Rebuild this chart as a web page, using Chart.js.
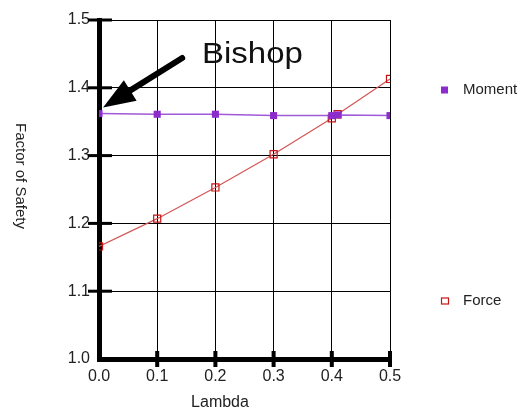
<!DOCTYPE html>
<html><head><meta charset="utf-8">
<script src="https://cdn.jsdelivr.net/npm/chart.js@4/dist/chart.umd.min.js"></script>
<style>html,body{margin:0;padding:0;background:#fff}</style>
</head><body>
<canvas id="c" width="528" height="412"></canvas>
<script>
// ---- data ----
const lambdaValues = [0.0, 0.1, 0.2, 0.3, 0.4, 0.41, 0.5];
const momentValues = [1.362, 1.361, 1.361, 1.359, 1.359, 1.360, 1.359];
const forceValues  = [1.166, 1.207, 1.253, 1.302, 1.355, 1.361, 1.413];
const xTickValues = [0.0, 0.1, 0.2, 0.3, 0.4, 0.5];
const yTickValues = [1.0, 1.1, 1.2, 1.3, 1.4, 1.5];
const seriesNames = ['Moment', 'Force'];
const xTitle = 'Lambda';
const yTitle = 'Factor of Safety';
const noteText = 'Bishop';

const FONT = '"Liberation Sans", Arial, Helvetica, sans-serif';
const purple = 'rgb(140,44,204)';
const purpleLine = 'rgb(160,90,215)';
const red = 'rgb(200,20,20)';
const redLine = 'rgb(212,85,85)';

const pts = (ys) => lambdaValues.map((x, i) => ({x, y: ys[i]}));

const decorPlugin = {
  id: 'decor',
  beforeDatasetsDraw(chart) {
    const {ctx, scales: {x, y}} = chart;
    ctx.save();
    ctx.fillStyle = '#000';
    // y tick marks (crossing the axis)
    const yAxisX = x.getPixelForValue(0);
    yTickValues.forEach(v => {
      if (v === yTickValues[0]) return;
      const py = y.getPixelForValue(v);
      ctx.fillRect(yAxisX - 11, py - 1.5, 24, 3);
    });
    // x tick marks
    const xAxisY = y.getPixelForValue(1.0);
    xTickValues.forEach(v => {
      if (v === xTickValues[0]) return;
      const px = x.getPixelForValue(v);
      ctx.fillRect(px - 2, xAxisY - 8, 4, 16);
    });
    ctx.restore();
  },
  afterDraw(chart) {
    const {ctx, scales: {x, y}, chartArea} = chart;
    ctx.save();
    ctx.fillStyle = '#222';
    // y title (reads top to bottom)
    ctx.font = '15px ' + FONT;
    ctx.textAlign = 'center';
    ctx.textBaseline = 'middle';
    ctx.save();
    ctx.translate(20, 176);
    ctx.rotate(Math.PI / 2);
    ctx.fillText(yTitle, 0, 0);
    ctx.restore();
    // x title
    ctx.font = '16px ' + FONT;
    ctx.fillText(xTitle, 220, 403);

    // legend
    const ds = chart.data.datasets;
    const legendY = [90, 301];
    ds.forEach((d, i) => {
      const cy = legendY[i];
      if (i === 0) {
        ctx.fillStyle = purple;
        ctx.fillRect(441, cy - 3.5, 7, 7);
      } else {
        ctx.fillStyle = '#fff';
        ctx.fillRect(441, cy - 3.5, 7, 7);
        ctx.strokeStyle = red; ctx.lineWidth = 1.2;
        ctx.strokeRect(441.5, cy - 3, 7, 6);
      }
      ctx.fillStyle = '#222';
      ctx.font = '15px ' + FONT;
      ctx.textAlign = 'left';
      ctx.textBaseline = 'middle';
      ctx.fillText(d.label, 463, cy);
    });

    // Bishop annotation
    ctx.fillStyle = '#111';
    ctx.font = '30px ' + FONT;
    ctx.textAlign = 'left';
    ctx.textBaseline = 'alphabetic';
    ctx.save();
    ctx.translate(x.getPixelForValue(0.177), y.getPixelForValue(1.437));
    ctx.scale(1.1, 1);
    ctx.fillText(noteText, 0, 0);
    ctx.restore();

    const tx = x.getPixelForValue(0.007), ty = y.getPixelForValue(1.371);
    const sx = x.getPixelForValue(0.143), sy = y.getPixelForValue(1.444);
    const dx = tx - sx, dy = ty - sy, L = Math.hypot(dx, dy);
    const ux = dx / L, uy = dy / L;
    const headLen = 32, halfW = 12;
    const bx = tx - ux * headLen, by = ty - uy * headLen;
    ctx.strokeStyle = '#000';
    ctx.lineWidth = 6;
    ctx.lineCap = 'round';
    ctx.beginPath();
    ctx.moveTo(sx, sy);
    ctx.lineTo(bx + ux * 4, by + uy * 4);
    ctx.stroke();
    ctx.fillStyle = '#000';
    ctx.beginPath();
    ctx.moveTo(tx, ty);
    ctx.lineTo(bx - uy * halfW, by + ux * halfW);
    ctx.lineTo(bx + uy * halfW, by - ux * halfW);
    ctx.closePath();
    ctx.fill();
    ctx.restore();
  }
};

new Chart(document.getElementById('c'), {
  type: 'line',
  data: {
    datasets: [
      {
        label: seriesNames[0],
        data: pts(momentValues),
        borderColor: purpleLine,
        borderWidth: 1.5,
        backgroundColor: purple,
        pointStyle: 'rect',
        pointRadius: 5,
        pointBorderWidth: 0,
        pointBackgroundColor: purple,
        pointBorderColor: purple,
        tension: 0
      },
      {
        label: seriesNames[1],
        data: pts(forceValues),
        borderColor: redLine,
        borderWidth: 1.2,
        pointStyle: 'rect',
        pointRadius: 5,
        pointBorderWidth: 1.2,
        pointBackgroundColor: 'rgba(255,255,255,0)',
        pointBorderColor: red,
        tension: 0
      }
    ]
  },
  options: {
    responsive: false,
    animation: false,
    events: [],
    layout: { padding: { top: 20, right: 138, left: 0, bottom: 0 } },
    plugins: { legend: { display: false }, tooltip: { enabled: false } },
    scales: {
      x: {
        type: 'linear', min: 0, max: 0.5,
        afterBuildTicks: s => { s.ticks = xTickValues.map(v => ({value: v})); },
        afterFit: s => { s.height = 53; },
        ticks: { callback: v => Number(v).toFixed(1), font: { size: 16, family: FONT }, color: '#222', padding: 8, maxRotation: 0, autoSkip: false },
        grid: { color: '#000', lineWidth: 1, drawTicks: false },
        border: { color: '#000', width: 5 }
      },
      y: {
        min: 1.0, max: 1.5,
        afterBuildTicks: s => { s.ticks = yTickValues.map(v => ({value: v})); },
        afterFit: s => { s.width = 99; },
        ticks: { callback: v => Number(v).toFixed(1), font: { size: 16, family: FONT }, color: '#222', padding: 9, autoSkip: false },
        grid: { color: '#000', lineWidth: 1, drawTicks: false },
        border: { color: '#000', width: 5 }
      }
    }
  },
  plugins: [decorPlugin]
});
</script>
</body></html>
